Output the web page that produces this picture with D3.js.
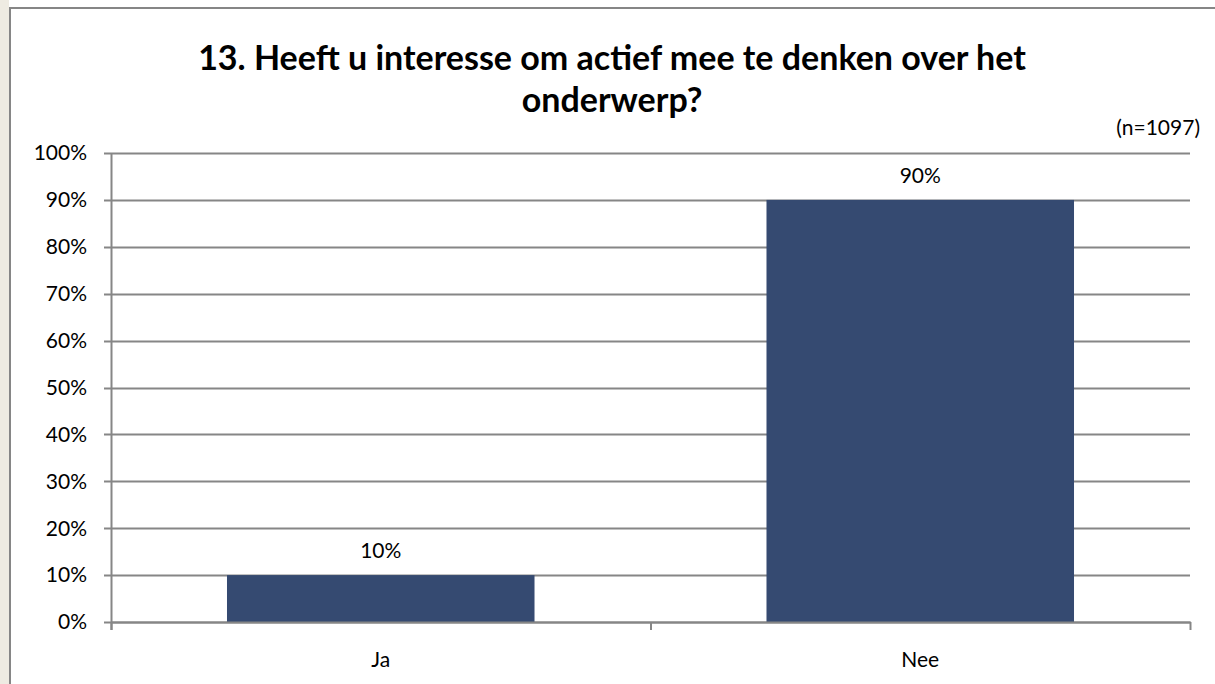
<!DOCTYPE html>
<html lang="nl">
<head>
<meta charset="UTF-8">
<title>13. Heeft u interesse</title>
<style>
  html, body { margin: 0; padding: 0; background: #ffffff; }
  svg { display: block; }
</style>
</head>
<body>
<div id="chart"></div>
<script src="https://cdn.jsdelivr.net/npm/d3@7"></script>
<script>
const categories = ["Ja", "Nee"];
const values = [0.10, 0.90];
const valueLabels = ["10%", "90%"];
const yTicks = [0, 0.1, 0.2, 0.3, 0.4, 0.5, 0.6, 0.7, 0.8, 0.9, 1.0];
const titleLines = ["13. Heeft u interesse om actief mee te denken over het", "onderwerp?"];
const note = "(n=1097)";

const W = 1215, H = 684;
const font = "Lato, 'Open Sans', sans-serif";
const gridColor = "#868686";
const labelSize = 21;

const svg = d3.select("#chart").append("svg")
    .attr("width", W).attr("height", H);

// beige strip at the left and the chart frame
svg.append("rect").attr("x", 0).attr("y", 0).attr("width", 9).attr("height", H).attr("fill", "#eeebe2");
svg.append("rect").attr("x", 9).attr("y", 0).attr("width", W - 9).attr("height", 7).attr("fill", "#ffffff");
svg.append("path")
    .attr("d", `M10,${H} V8 H${W}`)
    .attr("fill", "none").attr("stroke", gridColor).attr("stroke-width", 2);

const plot = { left: 111, right: 1190, top: 153, bottom: 622 };

const x = d3.scaleBand().domain(categories).range([plot.left, plot.right]).padding(0);
const y = d3.scaleLinear().domain([0, 1]).range([plot.bottom, plot.top]);
const barW = x.bandwidth() * 0.57;

// gridlines
svg.append("g").selectAll("line").data(yTicks).enter().append("line")
    .attr("x1", plot.left - 7).attr("x2", plot.right)
    .attr("y1", d => Math.round(y(d)) + 0.5).attr("y2", d => Math.round(y(d)) + 0.5)
    .attr("stroke", gridColor).attr("stroke-width", 2);

// y axis labels
svg.append("g").selectAll("text").data(yTicks).enter().append("text")
    .attr("x", 87).attr("y", d => y(d)).attr("dy", "0.35em")
    .attr("text-anchor", "end")
    .attr("font-family", font).attr("font-size", labelSize).attr("fill", "#000")
    .text(d => d3.format(".0%")(d));

// bars
svg.append("g").selectAll("rect").data(values).enter().append("rect")
    .attr("x", (d, i) => x(categories[i]) + (x.bandwidth() - barW) / 2)
    .attr("y", d => y(d))
    .attr("width", barW)
    .attr("height", d => y(0) - y(d))
    .attr("fill", "#354a71");

// value labels
svg.append("g").selectAll("text").data(values).enter().append("text")
    .attr("x", (d, i) => x(categories[i]) + x.bandwidth() / 2)
    .attr("y", d => y(d) - 24).attr("dy", "0.35em")
    .attr("text-anchor", "middle")
    .attr("font-family", font).attr("font-size", labelSize).attr("fill", "#000")
    .text((d, i) => valueLabels[i]);

// axes lines
svg.append("line")
    .attr("x1", plot.left + 0.5).attr("x2", plot.left + 0.5)
    .attr("y1", plot.top).attr("y2", plot.bottom + 8)
    .attr("stroke", gridColor).attr("stroke-width", 2);
svg.append("line")
    .attr("x1", plot.left).attr("x2", plot.right + 1)
    .attr("y1", plot.bottom + 0.5).attr("y2", plot.bottom + 0.5)
    .attr("stroke", gridColor).attr("stroke-width", 2);
const xTickPos = categories.map(c => x(c)).concat([x(categories[categories.length - 1]) + x.bandwidth()]);
svg.append("g").selectAll("line").data(xTickPos).enter().append("line")
    .attr("x1", d => d + 0.5).attr("x2", d => d + 0.5)
    .attr("y1", plot.bottom).attr("y2", plot.bottom + 8)
    .attr("stroke", gridColor).attr("stroke-width", 2);

// category labels
svg.append("g").selectAll("text").data(categories).enter().append("text")
    .attr("x", d => x(d) + x.bandwidth() / 2)
    .attr("y", 660).attr("dy", "0.35em")
    .attr("text-anchor", "middle")
    .attr("font-family", font).attr("font-size", labelSize).attr("fill", "#000")
    .text(d => d);

// title
svg.append("g").selectAll("text").data(titleLines).enter().append("text")
    .attr("x", 612).attr("y", (d, i) => 58 + i * 42).attr("dy", "0.35em")
    .attr("text-anchor", "middle")
    .attr("font-family", font).attr("font-weight", "bold").attr("font-size", 34).attr("fill", "#000")
    .text(d => d);

svg.append("text")
    .attr("x", 1200).attr("y", 128).attr("dy", "0.35em")
    .attr("text-anchor", "end")
    .attr("font-family", font).attr("font-size", labelSize).attr("fill", "#000")
    .text(note);
</script>
</body>
</html>
